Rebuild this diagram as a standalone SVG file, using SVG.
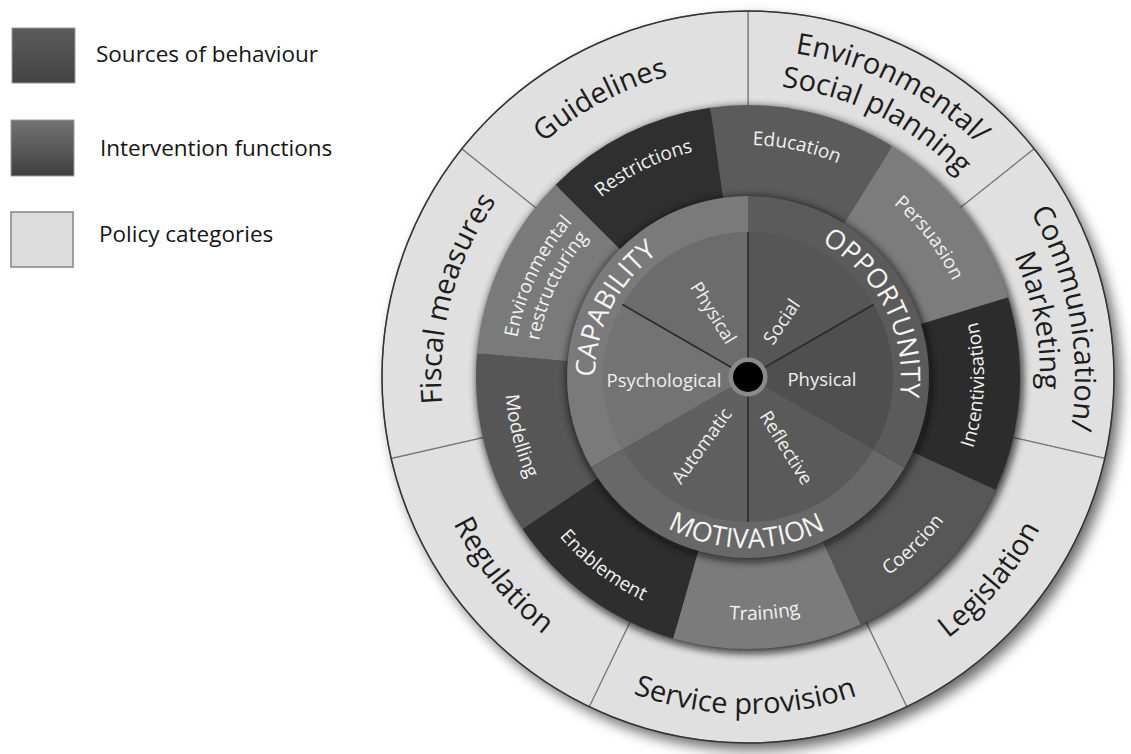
<svg xmlns="http://www.w3.org/2000/svg" width="1131" height="754" viewBox="0 0 1131 754">
<style>
text{font-family:"Open Sans","Liberation Sans",sans-serif}
.lg{font-size:22.5px;fill:#151515}
.pol{font-size:29px;fill:#1c1c1c;text-anchor:middle}
.int{font-size:19px;fill:#f2f2f2;text-anchor:middle}
.src{font-size:27px;fill:#f5f5f5;text-anchor:middle}
.sub{font-size:18.5px;fill:#f0f0f0;text-anchor:middle}
.ps{fill:#e0e0e0;stroke:#7a7a7a;stroke-width:1.2}
.spoke{stroke:#2a2a2a;stroke-width:1.6}
</style>
<defs>
<filter id="b6" x="-20%" y="-20%" width="140%" height="140%"><feGaussianBlur stdDeviation="7"/></filter>
<filter id="b4" x="-20%" y="-20%" width="140%" height="140%"><feGaussianBlur stdDeviation="4"/></filter>
<linearGradient id="g1" x1="0" y1="0" x2="0" y2="1"><stop offset="0" stop-color="#5c5c5c"/><stop offset="1" stop-color="#434343"/></linearGradient>
<linearGradient id="g2" x1="0" y1="0" x2="0" y2="1"><stop offset="0" stop-color="#737373"/><stop offset="0.5" stop-color="#5a5a5a"/><stop offset="1" stop-color="#3e3e3e"/></linearGradient>
<path id="cw311" d="M437 377 A311 311 0 0 1 1059 377"/>
<path id="cw307" d="M441 377 A307 307 0 0 1 1055 377"/>
<path id="cw327" d="M421 377 A327 327 0 0 1 1075 377"/>
<path id="cw292" d="M456 377 A292 292 0 0 1 1040 377"/>
<path id="cw232" d="M516 377 A232 232 0 0 1 980 377"/>
<path id="cw226" d="M522 377 A226 226 0 0 1 974 377"/>
<path id="cw234" d="M514 377 A234 234 0 0 1 982 377"/>
<path id="cw212" d="M536 377 A212 212 0 0 1 960 377"/>
<path id="cw153" d="M595 377 A153 153 0 0 1 901 377"/>
<path id="ccw329" d="M419 377 A329 329 0 0 0 1077 377"/>
<path id="ccw337" d="M411 377 A337 337 0 0 0 1085 377"/>
<path id="ccw236" d="M512 377 A236 236 0 0 0 984 377"/>
<path id="ccw243" d="M505 377 A243 243 0 0 0 991 377"/>
<path id="ccw247" d="M501 377 A247 247 0 0 0 995 377"/>
<path id="ccw171" d="M577 377 A171 171 0 0 0 919 377"/>
</defs>
<rect width="1131" height="754" fill="#ffffff"/>

<g id="legend-sources">
<rect x="12" y="28" width="63" height="55" fill="url(#g1)" stroke="#9a9a9a" stroke-width="1"/>
<text class="lg" x="96" y="62">Sources of behaviour</text>
</g>
<g id="legend-interventions">
<rect x="11" y="120" width="63" height="56" fill="url(#g2)" stroke="#9a9a9a" stroke-width="1"/>
<text class="lg" x="100" y="156">Intervention functions</text>
</g>
<g id="legend-policy">
<rect x="11" y="212" width="62" height="55" fill="#dcdcdc" stroke="#8a8a8a" stroke-width="1.6"/>
<text class="lg" x="99" y="242">Policy categories</text>
</g>

<circle cx="754" cy="384" r="366" fill="#000" opacity="0.6" filter="url(#b6)"/>

<g id="policy-env-social">
<path class="ps" d="M748 377 L748 11 A366 366 0 0 1 1034.15 148.8 Z"/>
<text class="pol" transform="rotate(26.5 748 377)"><textPath href="#cw327" startOffset="50%">Environmental/</textPath></text>
<text class="pol" transform="rotate(26.5 748 377)"><textPath href="#cw292" startOffset="50%">Social planning</textPath></text>
</g>
<g id="policy-communication">
<path class="ps" d="M748 377 L1034.15 148.8 A366 366 0 0 1 1104.82 458.44 Z"/>
<text class="pol" transform="rotate(79.5 748 377)"><textPath href="#cw327" startOffset="50%">Communication/</textPath></text>
<text class="pol" transform="rotate(79 748 377)"><textPath href="#cw292" startOffset="50%">Marketing</textPath></text>
</g>
<g id="policy-legislation">
<path class="ps" d="M748 377 L1104.82 458.44 A366 366 0 0 1 906.8 706.75 Z"/>
<text class="pol" transform="rotate(-50 748 377)"><textPath href="#ccw329" startOffset="50%">Legislation</textPath></text>
</g>
<g id="policy-service">
<path class="ps" d="M748 377 L906.8 706.75 A366 366 0 0 1 589.2 706.75 Z"/>
<text class="pol" transform="rotate(0.5 748 377)"><textPath href="#ccw337" startOffset="50%">Service provision</textPath></text>
</g>
<g id="policy-regulation">
<path class="ps" d="M748 377 L589.2 706.75 A366 366 0 0 1 391.18 458.44 Z"/>
<text class="pol" transform="rotate(51 748 377)"><textPath href="#ccw329" startOffset="50%">Regulation</textPath></text>
</g>
<g id="policy-fiscal">
<path class="ps" d="M748 377 L391.18 458.44 A366 366 0 0 1 461.85 148.8 Z"/>
<text class="pol" transform="rotate(-75 748 377)"><textPath href="#cw307" startOffset="50%">Fiscal measures</textPath></text>
</g>
<g id="policy-guidelines">
<path class="ps" d="M748 377 L461.85 148.8 A366 366 0 0 1 748 11 Z"/>
<text class="pol" transform="rotate(-28 748 377)"><textPath href="#cw311" startOffset="50%">Guidelines</textPath></text>
</g>
<circle cx="748" cy="377" r="366" fill="none" stroke="#333" stroke-width="1.5"/>

<circle cx="750" cy="380" r="273" fill="#111" opacity="0.85" filter="url(#b4)"/>

<g id="int-education">
<path fill="#5b5b5b" d="M748 377 L710.14 107.65 A272 272 0 0 1 892.14 146.33 Z"/>
<text class="int" transform="rotate(12 748 377)"><textPath href="#cw232" startOffset="50%">Education</textPath></text>
</g>
<g id="int-persuasion">
<path fill="#7c7c7c" d="M748 377 L892.14 146.33 A272 272 0 0 1 1008.11 297.48 Z"/>
<text class="int" transform="rotate(52.5 748 377)"><textPath href="#cw226" startOffset="50%">Persuasion</textPath></text>
</g>
<g id="int-incentivisation">
<path fill="#2c2c2c" d="M748 377 L1008.11 297.48 A272 272 0 0 1 995.52 489.8 Z"/>
<text class="int" transform="rotate(-88 748 377)"><textPath href="#ccw236" startOffset="50%">Incentivisation</textPath></text>
</g>
<g id="int-coercion">
<path fill="#575757" d="M748 377 L995.52 489.8 A272 272 0 0 1 860.8 624.51 Z"/>
<text class="int" transform="rotate(-44.5 748 377)"><textPath href="#ccw243" startOffset="50%">Coercion</textPath></text>
</g>
<g id="int-training">
<path fill="#7b7b7b" d="M748 377 L860.8 624.51 A272 272 0 0 1 673.03 638.46 Z"/>
<text class="int" transform="rotate(-4 748 377)"><textPath href="#ccw243" startOffset="50%">Training</textPath></text>
</g>
<g id="int-enablement">
<path fill="#2e2e2e" d="M748 377 L673.03 638.46 A272 272 0 0 1 522.5 529.1 Z"/>
<text class="int" transform="rotate(37.5 748 377)"><textPath href="#ccw247" startOffset="50%">Enablement</textPath></text>
</g>
<g id="int-modelling">
<path fill="#565656" d="M748 377 L522.5 529.1 A272 272 0 0 1 477.04 353.29 Z"/>
<text class="int" transform="rotate(75.5 748 377)"><textPath href="#ccw243" startOffset="50%">Modelling</textPath></text>
</g>
<g id="int-env-restructuring">
<path fill="#7a7a7a" d="M748 377 L477.04 353.29 A272 272 0 0 1 555.67 184.67 Z"/>
<text class="int" transform="rotate(-64.5 748 377)"><textPath href="#cw234" startOffset="50%">Environmental</textPath></text>
<text class="int" transform="rotate(-64.5 748 377)"><textPath href="#cw212" startOffset="50%">restructuring</textPath></text>
</g>
<g id="int-restrictions">
<path fill="#2f2f2f" d="M748 377 L555.67 184.67 A272 272 0 0 1 710.14 107.65 Z"/>
<text class="int" transform="rotate(-26.5 748 377)"><textPath href="#cw232" startOffset="50%">Restrictions</textPath></text>
</g>

<circle cx="749" cy="379" r="182" fill="#111" opacity="0.8" filter="url(#b4)"/>

<g id="src-capability">
<path fill="#7a7a7a" d="M748 377 L591.25 467.5 A181 181 0 0 1 748 196 Z"/>
<text class="src" transform="rotate(-63 748 377)"><textPath href="#cw153" startOffset="50%">CAPABILITY</textPath></text>
</g>
<g id="src-opportunity">
<path fill="#5b5b5b" d="M748 377 L748 196 A181 181 0 0 1 904.75 467.5 Z"/>
<text class="src" transform="rotate(63 748 377)"><textPath href="#cw153" startOffset="50%">OPPORTUNITY</textPath></text>
</g>
<g id="src-motivation">
<path fill="#686868" d="M748 377 L904.75 467.5 A181 181 0 0 1 591.25 467.5 Z"/>
<text class="src" transform="rotate(0.5 748 377)"><textPath href="#ccw171" startOffset="50%">MOTIVATION</textPath></text>
</g>

<g id="sub-cap-physical">
<path fill="#6c6c6c" d="M748 377 L622.43 304.5 A145 145 0 0 1 748 232 Z"/>
<text class="sub" transform="translate(713 313) rotate(58)" y="6">Physical</text>
</g>
<g id="sub-cap-psychological">
<path fill="#737373" d="M748 377 L622.43 449.5 A145 145 0 0 1 622.43 304.5 Z"/>
<text class="sub" x="664" y="387">Psychological</text>
</g>
<g id="sub-opp-social">
<path fill="#565656" d="M748 377 L748 232 A145 145 0 0 1 873.57 304.5 Z"/>
<text class="sub" transform="translate(782 322) rotate(-56)" y="6">Social</text>
</g>
<g id="sub-opp-physical">
<path fill="#4f4f4f" d="M748 377 L873.57 304.5 A145 145 0 0 1 873.57 449.5 Z"/>
<text class="sub" x="822" y="386">Physical</text>
</g>
<g id="sub-mot-reflective">
<path fill="#5a5a5a" d="M748 377 L873.57 449.5 A145 145 0 0 1 748 522 Z"/>
<text class="sub" transform="translate(786 448) rotate(58)" y="6">Reflective</text>
</g>
<g id="sub-mot-automatic">
<path fill="#5f5f5f" d="M748 377 L748 522 A145 145 0 0 1 622.43 449.5 Z"/>
<text class="sub" transform="translate(702 446) rotate(-54)" y="6">Automatic</text>
</g>

<g id="connectors">
<line class="spoke" x1="748" y1="358" x2="748" y2="232"/>
<line class="spoke" x1="748" y1="396" x2="748" y2="522"/>
<line class="spoke" x1="764.5" y1="367.5" x2="873.57" y2="304.5"/>
<line class="spoke" x1="731.5" y1="367.5" x2="622.43" y2="304.5"/>
</g>

<g id="hub">
<circle cx="748" cy="377" r="19.5" fill="#8a8a8a"/>
<circle cx="748" cy="377" r="15" fill="#000"/>
</g>
</svg>
